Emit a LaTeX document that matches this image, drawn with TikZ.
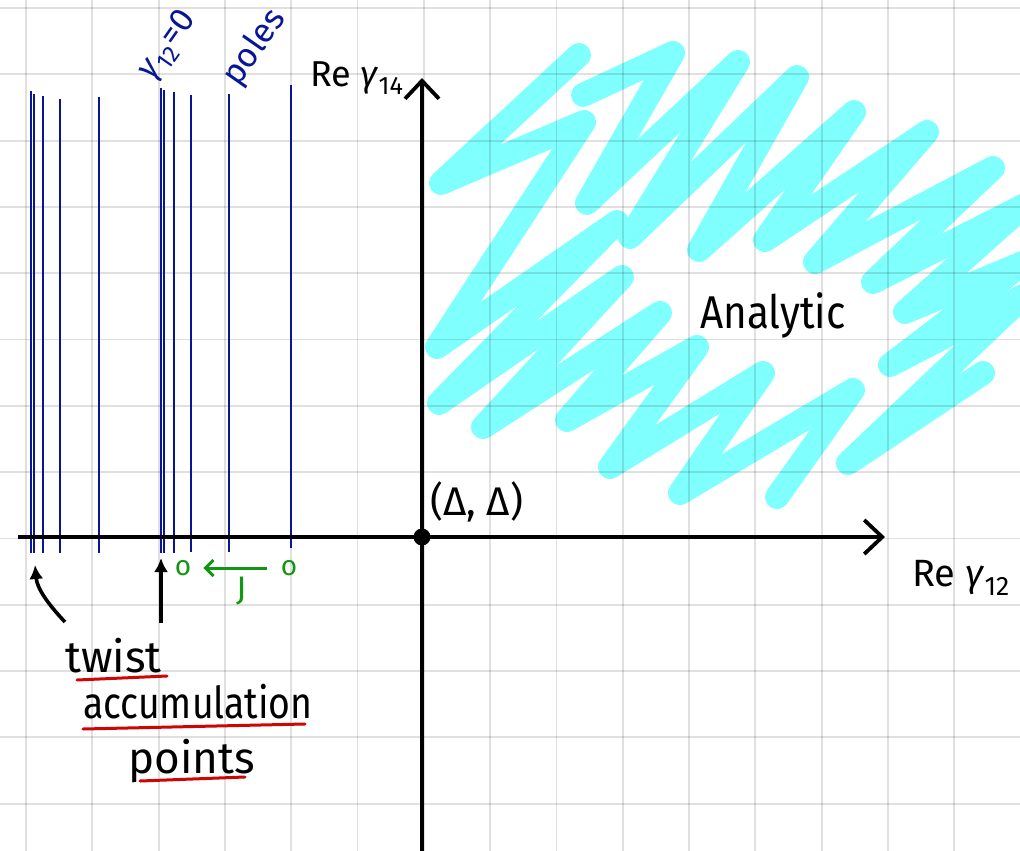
\documentclass[tikz,border=0pt]{standalone}
\usepackage{fontspec}
\setmainfont{Fira Sans}
\usetikzlibrary{arrows.meta,positioning,calc}
\definecolor{poleblue}{RGB}{8,22,150}
\definecolor{scribblecyan}{RGB}{128,255,255}
\definecolor{jgreen}{RGB}{20,150,20}
\definecolor{ulred}{RGB}{205,5,5}
\newcommand{\gam}[1]{\textit{γ}\textsubscript{#1}}

\begin{document}
\begin{tikzpicture}[x=1pt,y=-1pt,gridline/.style={line width=1.8pt,black,opacity=0.12},scribble/.style={line width=24pt,draw=scribblecyan,line cap=round,line join=round},pole/.style={line width=1.7pt,draw=poleblue},axis/.style={line width=3.8pt,-{Straight Barb[length=18pt,width=34pt]}},pointer/.style={line width=3.6pt,-{Latex[length=14pt,width=14pt]}},jarr/.style={line width=3pt,draw=jgreen,-{Straight Barb[length=8pt,width=16pt]}},uline/.style={line width=3pt,draw=ulred,line cap=round},hand/.style={inner sep=0pt,anchor=base west},bluetext/.style={inner sep=0pt,rotate=55,text=poleblue,font=\fontsize{34}{38}\selectfont}]
\useasboundingbox (0,0) rectangle (1020,851);
\fill[white] (0,0) rectangle (1020,851);
\draw[scribble] (579,55) -- (441,183) -- (584,122) -- (437,347) -- (617,222) -- (439,403) -- (622,277) -- (483,427) -- (660,313) -- (567,420) -- (697,347) -- (610,467) -- (763,373) -- (680,493) -- (853,390) -- (777,497);
\draw[scribble] (583,95) -- (673,53) -- (587,203) -- (738,62) -- (630,237) -- (797,77) -- (699,250) -- (854,112) -- (765,240) -- (927,132) -- (815,262) -- (993,168) -- (873,282) -- (1025,205) -- (905,312) -- (1025,262) -- (890,365) -- (1025,295) -- (848,463) -- (983,373);
\foreach \i in {0,...,15} \draw[gridline] ({26+66.3*\i},0) -- ++(0,851);
\foreach \i in {0,...,12} \draw[gridline] (0,{8+66.3*\i}) -- ++(1020,0);
\foreach \x/\ya/\yb in {31/91/553,34/94/553,43/96/553,60/99/553,99/97/553,161/88/553,164/90/553,174/92/553,191/95/552,229/94/552,291/85/548}{\draw[pole] (\x,\ya) -- (\x,\yb);}
\coordinate (xl) at (18,537); \coordinate (xr) at (885,537);
\coordinate (yb) at (422,851); \coordinate (yt) at (422,78);
\draw[axis] (xl) -- (xr);
\draw[axis] (yb) -- (yt);
\node[circle,fill,inner sep=0pt,minimum size=17pt] (O) at (422,537) {};
\node[hand,font=\fontsize{40}{44}\selectfont] (delta) at (430,515) {(Δ, Δ)};
\node[hand,font=\fontsize{36}{40}\selectfont] (ry) at (310,86) {Re \gam{14}};
\node[hand,font=\fontsize{38}{42}\selectfont] (rx) at (912,586) {Re \gam{12}};
\node[hand,font=\fontsize{46}{50}\selectfont,xscale=0.88] (analytic) at (700,328) {Analytic};
\node[bluetext] (zero) at (168,46) {\gam{12}=0};
\node[bluetext] (poles) at (255,48) {poles};
\node[inner sep=0pt,text=jgreen,font=\fontsize{28}{30}\selectfont] (o1) at (183,568) {o};
\node[inner sep=0pt,text=jgreen,font=\fontsize{28}{30}\selectfont] (o2) at (289,568) {o};
\node[inner sep=0pt,text=jgreen,font=\fontsize{34}{36}\selectfont,below=9pt of $(o1)!0.55!(o2)$] (J) {J};
\draw[jarr,shorten <=14pt,shorten >=12pt] (o2) -- (o1);
\node[hand,font=\fontsize{44}{48}\selectfont] (twist) at (65,672) {twist};
\node[hand,font=\fontsize{44}{48}\selectfont,xscale=0.85] (accum) at (83,718) {accumulation};
\node[hand,font=\fontsize{44}{48}\selectfont] (points) at (128,773) {points};
\draw[uline] (77,680) -- (167,676);
\draw[uline] (83,729) -- (305,724);
\draw[uline] (140,781) -- (245,777);
\coordinate (t1) at (65,622); \coordinate (h1) at (35,565);
\coordinate (t2) at (161,623); \coordinate (h2) at (161,558);
\draw[pointer] (t1) .. controls (47,603) and (37,588) .. (h1);
\draw[pointer] (t2) -- (h2);
\end{tikzpicture}
\end{document}
